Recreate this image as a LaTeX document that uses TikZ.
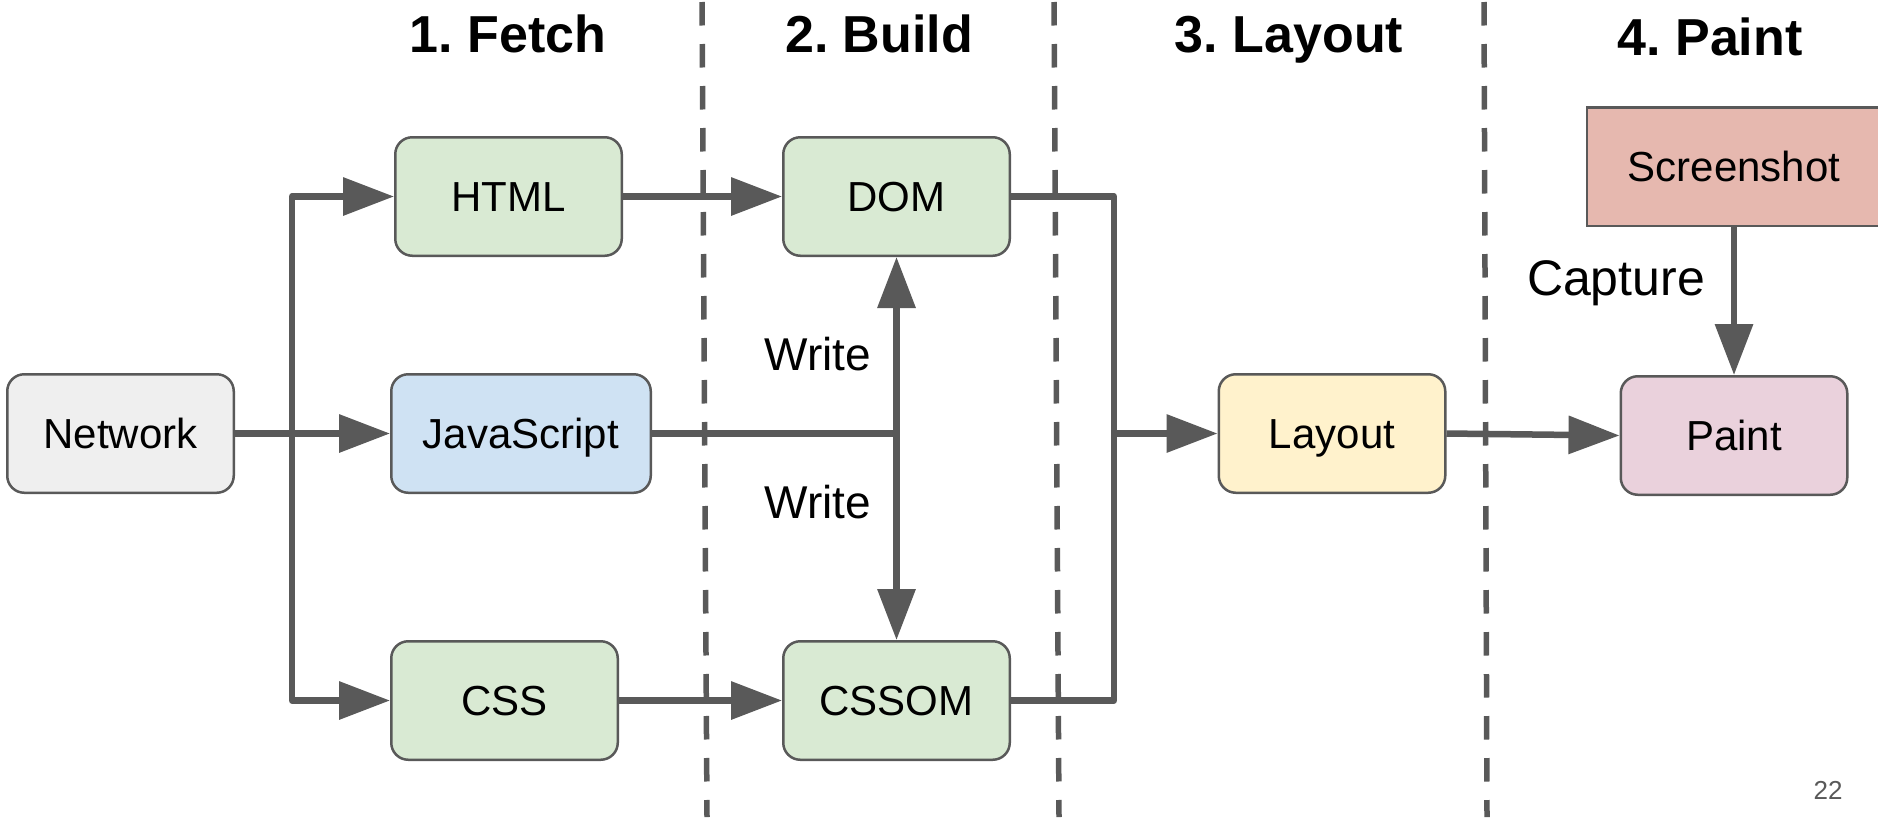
\documentclass[tikz,border=0pt]{standalone}
\usepackage{fontspec}
\setmainfont{Liberation Sans}
\usetikzlibrary{arrows.meta}
\definecolor{lc}{HTML}{595959}
\definecolor{gfill}{HTML}{D9EAD3}
\definecolor{bfill}{HTML}{CFE2F3}
\definecolor{yfill}{HTML}{FFF2CC}
\definecolor{pfill}{HTML}{EAD1DC}
\definecolor{sfill}{HTML}{E6B8AF}
\definecolor{nfill}{HTML}{EFEFEF}
\frenchspacing
\begin{document}
\begin{tikzpicture}[x=1pt,y=-1pt,
  box/.style={draw=lc, line width=2.5pt, rounded corners=17pt, minimum width=226.5pt, minimum height=118.5pt, inner sep=0pt, font=\fontsize{42}{50}\selectfont, text height=30pt, text depth=0pt},
  conn/.style={draw=lc, line width=6.5pt, line join=round},
  arr/.style={conn, -{Triangle[length=51pt,width=37pt]}},
  title/.style={font=\fontsize{52}{60}\selectfont\bfseries\frenchspacing, anchor=base, inner sep=0pt},
  lbl/.style={font=\fontsize{46}{54}\selectfont, anchor=base, inner sep=0pt},
  sepline/.style={draw=lc, line width=5.5pt, dash pattern=on 23.5pt off 18.5pt}
]
\useasboundingbox (0,0) rectangle (1878,817);
\fill[white] (0,0) rectangle (1878,817);

% separators
\draw[sepline] (702,2) -- (707,817);
\draw[sepline] (1054,2) -- (1059,817);
\draw[sepline] (1484,2) -- (1487,817);

% titles
\node[title] (t1) at (508,52) {1. Fetch};
\node[title] (t2) at (879,52) {2. Build};
\node[title] (t3) at (1289,52) {3. Layout};
\node[title] (t4) at (1710,55) {4. Paint};

% nodes
\node[box, fill=nfill] (network) at (120.5,433.5) {Network};
\node[box, fill=gfill] (html) at (508.5,196.5) {HTML};
\node[box, fill=bfill, minimum width=259.5pt] (js) at (521,433.5) {JavaScript};
\node[box, fill=gfill] (css) at (504.5,700.5) {CSS};
\node[box, fill=gfill] (dom) at (896.5,196.5) {DOM};
\node[box, fill=gfill] (cssom) at (896.5,700.5) {CSSOM};
\node[box, fill=yfill] (layout) at (1332,433.5) {Layout};
\node[box, fill=pfill] (paint) at (1734,435.5) {Paint};
\node[box, fill=sfill, rounded corners=0pt, minimum width=294.5pt] (shot) at (1734,166.5) {Screenshot};

% connectors
\coordinate (tr) at (292,433.5);
\draw[arr] (network.east) -- (js.west);
\draw[arr] (tr) |- (html.west);
\draw[arr] (tr) |- (css.west);
\draw[arr] (html.east) -- (dom.west);
\draw[arr] (css.east) -- (cssom.west);

\coordinate (jw) at (dom.south |- js.east);
\draw[conn] (js.east) -- (jw);
\draw[arr] (jw) -- (dom.south);
\draw[arr] (jw) -- (cssom.north);

\coordinate (mj) at (1114,433.5);
\draw[conn] (dom.east) -| (mj);
\draw[conn] (cssom.east) -| (mj);
\draw[arr] (mj) -- (layout.west);
\draw[arr] (layout.east) -- (paint.west);
\draw[arr] (shot.south) -- (paint.north);

% labels
\node[lbl] (w1) at (818,370) {Write};
\node[lbl] (w2) at (818,518) {Write};
\node[lbl, font=\fontsize{50}{58}\selectfont] (cap) at (1616,295) {Capture};
\node[anchor=base, inner sep=0pt, font=\fontsize{26}{30}\selectfont, text=lc] (pg) at (1828,799) {22};
\end{tikzpicture}
\end{document}
